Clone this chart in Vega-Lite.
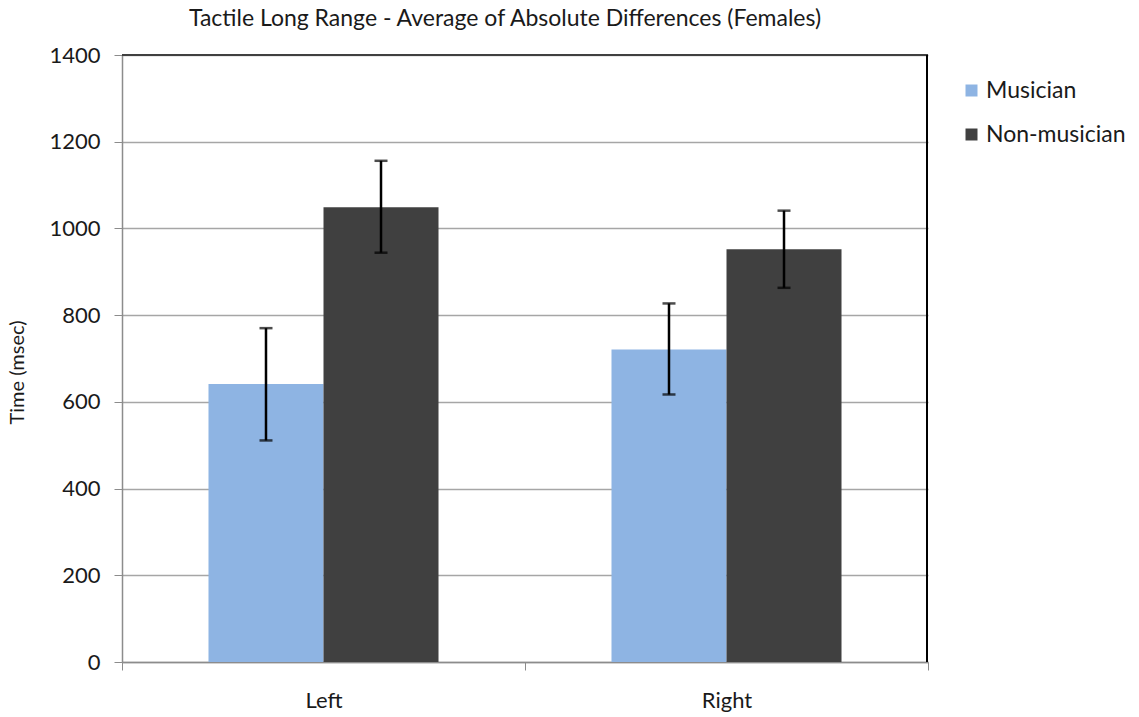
{
  "$schema": "https://vega.github.io/schema/vega-lite/v6.json",
  "width": 806,
  "height": 607,
  "autosize": {"type": "none"},
  "padding": {"left": 122, "top": 55, "right": 211, "bottom": 55},
  "background": "white",
  "config": {
    "view": {"stroke": null},
    "font": "Lato",
    "text": {"font": "Lato"}
  },
  "title": {
    "text": "Tactile Long Range - Average of Absolute Differences (Females)",
    "font": "Lato",
    "fontSize": 23,
    "fontWeight": "normal",
    "color": "#1a1a1a",
    "anchor": "middle",
    "dx": -20,
    "offset": 13
  },
  "data": {
    "values": [
      {"side": "Left", "group": "Musician", "value": 641, "lo": 511, "hi": 770},
      {"side": "Left", "group": "Non-musician", "value": 1049, "lo": 944, "hi": 1156},
      {"side": "Right", "group": "Musician", "value": 721, "lo": 617, "hi": 827},
      {"side": "Right", "group": "Non-musician", "value": 952, "lo": 863, "hi": 1041}
    ]
  },
  "layer": [
    {
      "mark": {"type": "bar"},
      "encoding": {
        "x": {
          "field": "side",
          "type": "nominal",
          "sort": ["Left", "Right"],
          "scale": {"paddingInner": 0, "paddingOuter": 0},
          "axis": {
            "title": null,
            "labelAngle": 0,
            "labelFont": "Lato",
            "labelFontSize": 22,
            "labelColor": "#1a1a1a",
            "labelPadding": 20,
            "domainColor": "#8c8c8c",
            "domainWidth": 1.5,
            "tickColor": "#8c8c8c",
            "tickBand": "extent",
            "tickSize": 8,
            "grid": false
          }
        },
        "xOffset": {
          "field": "group",
          "type": "nominal",
          "sort": ["Musician", "Non-musician"],
          "scale": {"paddingInner": 0, "paddingOuter": 0.752}
        },
        "y": {
          "field": "value",
          "type": "quantitative",
          "scale": {"domain": [0, 1400], "nice": false},
          "axis": {
            "title": "Time (msec)",
            "titleFont": "Lato",
            "titleFontSize": 20,
            "titleFontWeight": "normal",
            "titleColor": "#1a1a1a",
            "titlePadding": 21,
            "titleY": 317,
            "values": [0, 200, 400, 600, 800, 1000, 1200, 1400],
            "format": "d",
            "labelFont": "Lato",
            "labelFontSize": 22,
            "labelColor": "#1a1a1a",
            "labelPadding": 14,
            "tickSize": 8,
            "tickColor": "#8c8c8c",
            "domainColor": "#8c8c8c",
            "domainWidth": 1.5,
            "grid": true,
            "gridColor": "#a6a6a6",
            "gridWidth": 1.5
          }
        },
        "color": {
          "field": "group",
          "type": "nominal",
          "sort": ["Musician", "Non-musician"],
          "scale": {"domain": ["Musician", "Non-musician"], "range": ["#8eb4e3", "#404040"]},
          "legend": {
            "title": null,
            "orient": "none",
            "legendX": 838,
            "legendY": 24,
            "symbolType": "square",
            "symbolSize": 144,
            "symbolStrokeWidth": 0,
            "labelFont": "Lato",
            "labelFontSize": 23,
            "labelColor": "#1a1a1a",
            "labelOffset": 3,
            "rowPadding": 20
          }
        }
      }
    },
    {
      "mark": {"type": "rule", "color": "black", "strokeWidth": 2.5},
      "encoding": {
        "x": {"field": "side", "type": "nominal", "sort": ["Left", "Right"]},
        "xOffset": {"field": "group", "type": "nominal", "sort": ["Musician", "Non-musician"]},
        "y": {"field": "lo", "type": "quantitative"},
        "y2": {"field": "hi"}
      }
    },
    {
      "mark": {"type": "tick", "color": "black", "thickness": 2.5, "size": 13},
      "encoding": {
        "x": {"field": "side", "type": "nominal", "sort": ["Left", "Right"]},
        "xOffset": {"field": "group", "type": "nominal", "sort": ["Musician", "Non-musician"]},
        "y": {"field": "lo", "type": "quantitative"}
      }
    },
    {
      "mark": {"type": "tick", "color": "black", "thickness": 2.5, "size": 13},
      "encoding": {
        "x": {"field": "side", "type": "nominal", "sort": ["Left", "Right"]},
        "xOffset": {"field": "group", "type": "nominal", "sort": ["Musician", "Non-musician"]},
        "y": {"field": "hi", "type": "quantitative"}
      }
    },
    {
      "mark": {"type": "rule", "color": "#404040", "strokeWidth": 2},
      "encoding": {
        "y": {"datum": 1400, "type": "quantitative"},
        "x": {"value": 0},
        "x2": {"value": 806}
      }
    },
    {
      "mark": {"type": "rule", "color": "black", "strokeWidth": 2},
      "encoding": {
        "x": {"value": 805},
        "y": {"datum": 1400, "type": "quantitative"},
        "y2": {"datum": 0}
      }
    }
  ]
}
